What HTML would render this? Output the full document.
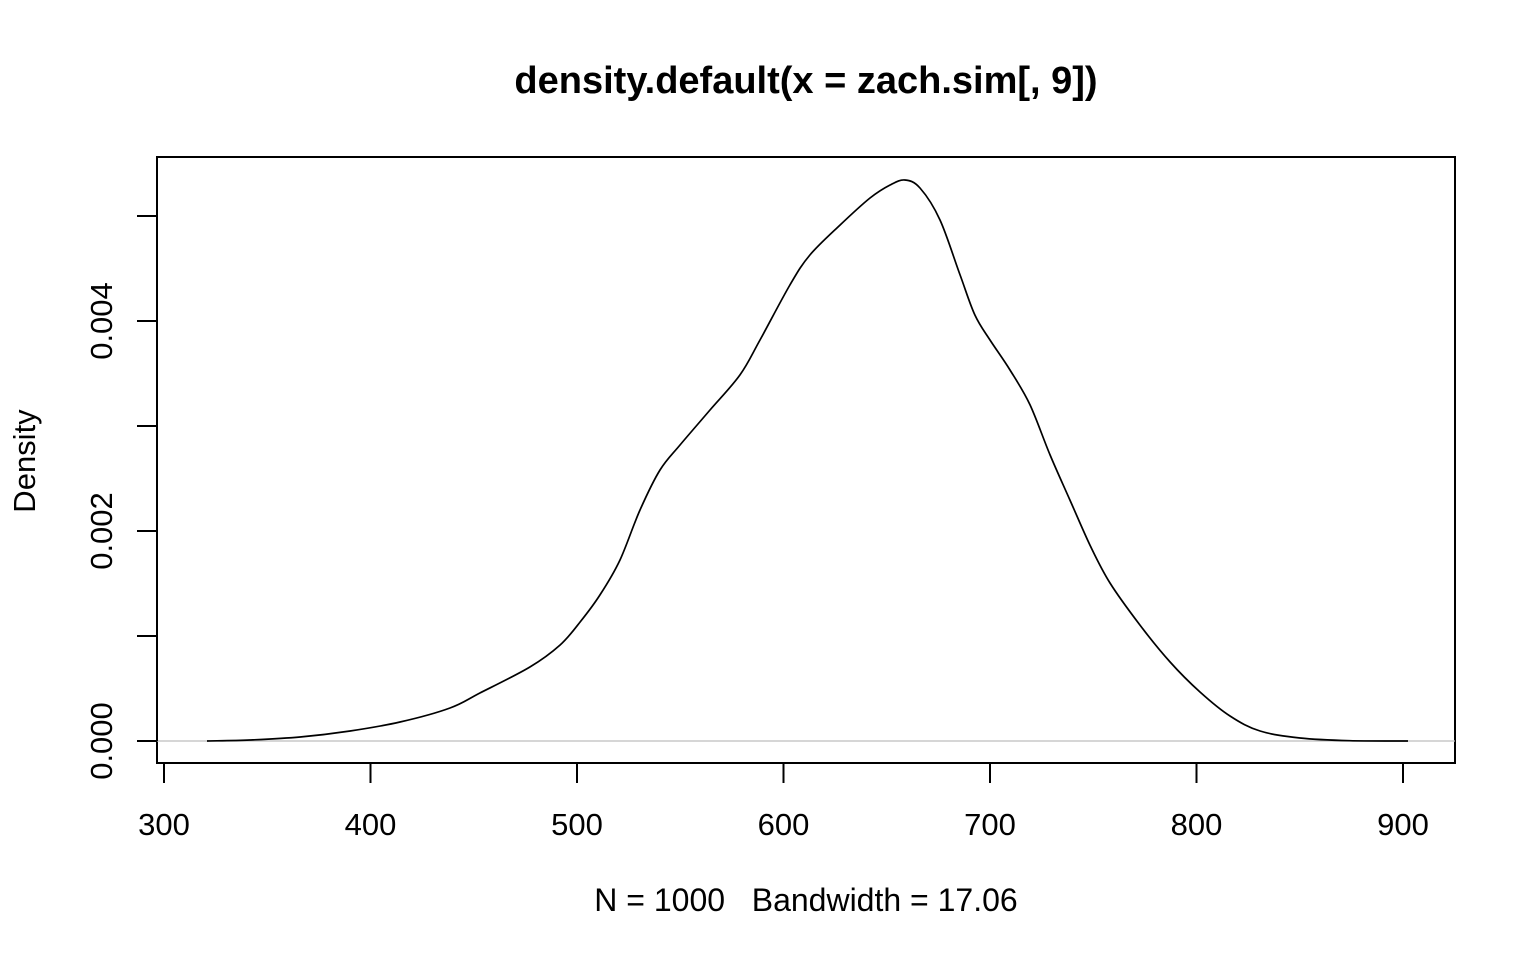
<!DOCTYPE html>
<html><head><meta charset="utf-8"><style>
html,body{margin:0;padding:0;background:#fff;}
svg{display:block;font-family:"Liberation Sans",Arial,sans-serif;}
</style></head><body>
<svg id="chart" width="1536" height="960" viewBox="0 0 1536 960">
<text x="806" y="93" text-anchor="middle" font-size="38" font-weight="bold">density.default(x = zach.sim[, 9])</text>
<rect x="157" y="157" width="1298" height="606" fill="none" stroke="#000" stroke-width="2"/>
<line x1="157" y1="741" x2="1455" y2="741" stroke="#bebebe" stroke-width="1.3"/>
<g id="xaxis"></g>
<g id="yaxis"></g>
<path id="curve" fill="none" stroke="#000" stroke-width="1.7"/>
<text x="35" y="461" text-anchor="middle" font-size="31" transform="rotate(-90 35 461)">Density</text>
<text x="806" y="911" text-anchor="middle" font-size="32" xml:space="preserve">N = 1000   Bandwidth = 17.06</text>
</svg>
<script>
const xTicks=[300,400,500,600,700,800,900];
const yTicks=[0,0.001,0.002,0.003,0.004,0.005];
const yTickLabels=["0.000","","0.002","","0.004",""];
const xVals=[320.8,341.6,365.9,390.1,414.3,438.5,453.0,477.2,491.8,501.5,511.1,520.8,530.5,540.2,549.9,564.4,578.9,588.6,603.1,612.8,627.4,641.9,651.6,658.8,666.1,675.8,685.5,692.7,700.0,709.7,719.4,729.1,738.7,748.4,758.1,772.6,787.2,801.7,816.2,830.8,850.1,874.3,902.4];
const densVals=[0,0.0095,0.038,0.095,0.181,0.314,0.457,0.705,0.914,1.133,1.390,1.724,2.2,2.581,2.819,3.152,3.486,3.819,4.343,4.629,4.914,5.171,5.295,5.343,5.267,4.962,4.438,4.057,3.819,3.533,3.2,2.724,2.295,1.867,1.505,1.105,0.752,0.467,0.238,0.095,0.029,0.003,0];
const densScale=0.001;
const sx=v=>164+(v-300)*2.065;
const sy=v=>741-v*105000;
const NS="http://www.w3.org/2000/svg";
const xa=document.getElementById('xaxis'),ya=document.getElementById('yaxis');
function mk(t,a,p){const e=document.createElementNS(NS,t);for(const k in a)e.setAttribute(k,a[k]);p.appendChild(e);return e;}
const xl=mk('line',{x1:sx(300),x2:sx(900),y1:763,y2:763,stroke:'#000','stroke-width':2},xa);


xTicks.forEach(v=>{
 const t=mk('line',{x1:sx(v),x2:sx(v),y1:763,y2:783,stroke:'#000','stroke-width':2},xa);
 
 
 const l=mk('text',{x:sx(v),y:835,'text-anchor':'middle','font-size':31},xa);
 l.textContent=v;
 
 
});
const yl=mk('line',{x1:157,x2:157,y1:sy(0),y2:sy(0.005),stroke:'#000','stroke-width':2},ya);


yTicks.forEach((v,i)=>{
 const t=mk('line',{x1:137,x2:157,y1:sy(v),y2:sy(v),stroke:'#000','stroke-width':2},ya);
 
 
 if(yTickLabels[i]){
  const l=mk('text',{x:112,y:sy(v),'text-anchor':'middle','font-size':31,transform:`rotate(-90 112 ${sy(v)})`},ya);
  l.textContent=yTickLabels[i];
  
  
 }
});
const P=xVals.map((x,i)=>[sx(x),sy(densVals[i]*densScale)]);
let d='M'+P[0][0].toFixed(1)+','+P[0][1].toFixed(1);
for(let i=0;i<P.length-1;i++){
 const p0=P[Math.max(0,i-1)],p1=P[i],p2=P[i+1],p3=P[Math.min(P.length-1,i+2)];
 const c1=[p1[0]+(p2[0]-p0[0])/6,p1[1]+(p2[1]-p0[1])/6];
 const c2=[p2[0]-(p3[0]-p1[0])/6,p2[1]-(p3[1]-p1[1])/6];
 d+=' C'+c1.map(n=>n.toFixed(1)).join(',')+' '+c2.map(n=>n.toFixed(1)).join(',')+' '+p2.map(n=>n.toFixed(1)).join(',');
}
document.getElementById('curve').setAttribute('d',d);
</script>
</body></html>
